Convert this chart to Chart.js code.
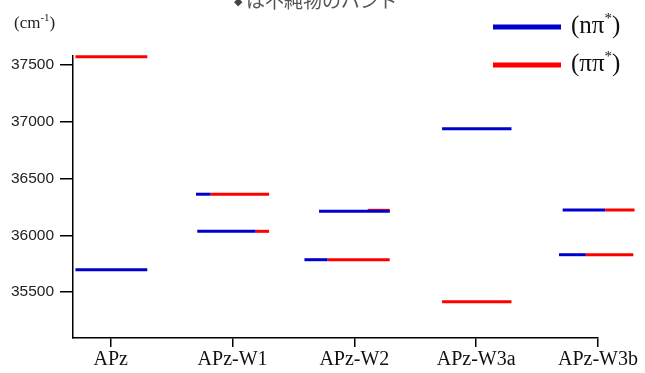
<!DOCTYPE html>
<html>
<head>
<meta charset="utf-8">
<script src="https://cdn.jsdelivr.net/npm/chart.js@4/dist/chart.umd.min.js"></script>
<style>
  html, body { margin: 0; padding: 0; background: #fff; }
  #wrap { width: 645px; height: 373px; position: relative; }
</style>
</head>
<body>
<div id="wrap"><canvas id="c" width="645" height="373"></canvas></div>
<script>
// Species along the horizontal axis
const categories = ['APz', 'APz-W1', 'APz-W2', 'APz-W3a', 'APz-W3b'];
// Energy axis tick values (cm-1)
const yTicks = [35500, 36000, 36500, 37000, 37500];

// (nπ*) character segments: species index, level energy, segment start/end (in category units)
const nPiCat    = [0, 1, 1, 2, 2, 3, 4, 4];
const nPiEnergy = [35696, 36362, 36035, 36211, 35785, 36938, 36223, 35829];
const nPiFrom   = [-0.29, -0.30, -0.29, -0.29, -0.41, -0.28, -0.29, -0.32];
const nPiTo     = [0.30, -0.18, 0.19, 0.29, -0.22, 0.29, 0.06, -0.10];

// (ππ*) character segments
const ppCat    = [0, 1, 1, 2, 2, 3, 4, 4];
const ppEnergy = [37573, 36362, 36035, 36220, 35785, 35415, 36223, 35829];
const ppFrom   = [-0.29, -0.18, 0.19, 0.11, -0.22, -0.28, 0.06, -0.10];
const ppTo     = [0.30, 0.30, 0.30, 0.29, 0.29, 0.29, 0.30, 0.29];

const BLUE = '#0000cc';
const RED = '#ff0000';

function segments(cat, energy, from, to, color) {
  return cat.map((c, i) => ({
    data: [{ x: c + from[i], y: energy[i] }, { x: c + to[i], y: energy[i] }],
    borderColor: color,
    backgroundColor: color,
    borderWidth: 3,
    pointRadius: 0,
    borderCapStyle: 'butt',
    clip: false,
    fill: false
  }));
}

const datasets = [
  ...segments(nPiCat, nPiEnergy, nPiFrom, nPiTo, BLUE),
  ...segments(ppCat, ppEnergy, ppFrom, ppTo, RED)
];

// Title, unit label and legend drawn onto the canvas
const decorations = {
  id: 'decorations',
  afterDraw(chart) {
    const ctx = chart.ctx;
    ctx.save();
    // title: small diamond followed by the caption
    ctx.fillStyle = '#444';
    ctx.textAlign = 'left';
    ctx.textBaseline = 'middle';
    ctx.font = '11px "DejaVu Sans"';
    ctx.fillText('◆', 234, 2);
    ctx.fillStyle = '#555';
    ctx.font = '19px "Noto Sans CJK JP"';
    ctx.fillText('は不純物のバンド', 246, 1);

    // unit label (cm-1)
    ctx.fillStyle = '#222';
    ctx.textBaseline = 'alphabetic';
    let x = 14;
    ctx.font = '17px "Liberation Serif"';
    ctx.fillText('(cm', x, 28); x += ctx.measureText('(cm').width;
    ctx.font = '11px "Liberation Serif"';
    ctx.fillText('-1', x, 21); x += ctx.measureText('-1').width;
    ctx.font = '17px "Liberation Serif"';
    ctx.fillText(')', x, 28);

    // legend
    const items = [
      { color: BLUE, y: 27, base: 'nπ' },
      { color: RED, y: 65, base: 'ππ' }
    ];
    items.forEach(it => {
      ctx.strokeStyle = it.color;
      ctx.lineWidth = 5;
      ctx.beginPath();
      ctx.moveTo(493, it.y);
      ctx.lineTo(561, it.y);
      ctx.stroke();
      ctx.fillStyle = '#111';
      let tx = 571;
      const by = it.y + 6;
      ctx.font = '25px "Liberation Serif"';
      ctx.fillText('(' + it.base, tx, by); tx += ctx.measureText('(' + it.base).width;
      ctx.font = '15px "Liberation Serif"';
      ctx.fillText('*', tx, by - 10); tx += ctx.measureText('*').width;
      ctx.font = '25px "Liberation Serif"';
      ctx.fillText(')', tx, by);
    });
    ctx.restore();
  }
};

new Chart(document.getElementById('c'), {
  type: 'line',
  data: { datasets },
  options: {
    responsive: false,
    animation: false,
    layout: { padding: { left: 0, right: 47, top: 56, bottom: 0 } },
    plugins: { legend: { display: false }, tooltip: { enabled: false } },
    scales: {
      x: {
        type: 'linear',
        min: -0.31,
        max: 4,
        afterBuildTicks: s => { s.ticks = categories.map((_, i) => ({ value: i })); },
        afterFit: s => { s.height = 35; },
        ticks: {
          callback: v => categories[v],
          autoSkip: false,
          maxRotation: 0,
          color: '#111',
          padding: 1,
          font: { family: '"Liberation Serif"', size: 20 }
        },
        grid: { drawOnChartArea: false, drawTicks: true, tickLength: 9, color: '#000', lineWidth: 1.5 },
        border: { display: true, color: '#000', width: 1.5 }
      },
      y: {
        type: 'linear',
        min: 35095,
        max: 37580,
        afterBuildTicks: s => { s.ticks = yTicks.map(v => ({ value: v })); },
        afterFit: s => { s.width = 73; },
        ticks: {
          callback: v => String(v),
          color: '#222',
          padding: 6,
          font: { family: '"Liberation Sans"', size: 15.5 }
        },
        grid: { drawOnChartArea: false, drawTicks: true, tickLength: 13, color: '#000', lineWidth: 1.5 },
        border: { display: true, color: '#000', width: 1.5 }
      }
    }
  },
  plugins: [decorations]
});
</script>
</body>
</html>
